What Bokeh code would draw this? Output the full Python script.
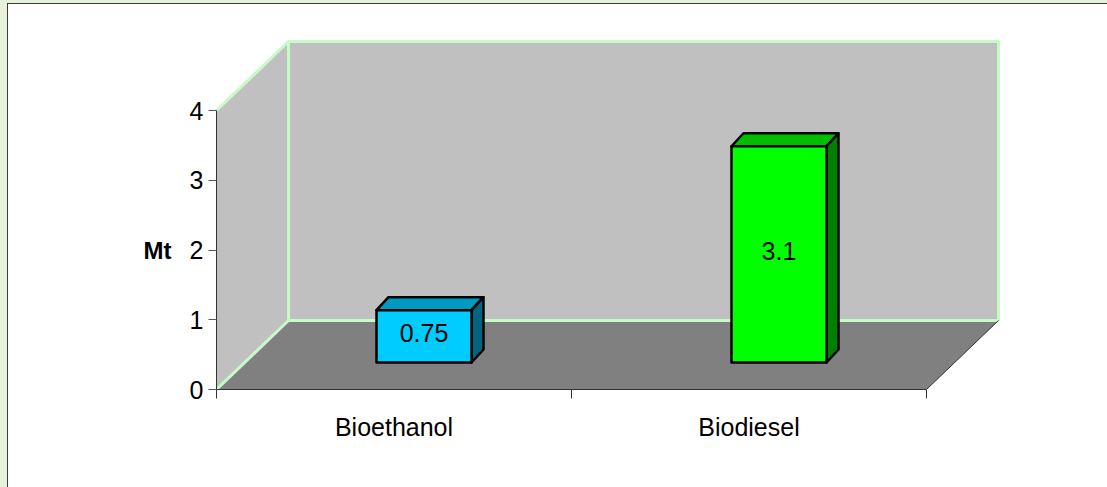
from bokeh.plotting import figure
from bokeh.models import Range1d, FixedTicker
from bokeh.core.properties import value
from bokeh.embed import file_html
from bokeh.resources import INLINE

categories = ["Bioethanol", "Biodiesel"]
values = [0.75, 3.1]
value_labels = ["0.75", "3.1"]
y_ticks = [0, 1, 2, 3, 4]
axis_label = "Mt"
axis_label_y = 2
face_colors = ["#00CCFF", "#00FF00"]
top_colors = ["#0099BF", "#00BF00"]
side_colors = ["#006680", "#008000"]

W, H = 1099, 483
LEFT, BOTTOM = 208, 98
XU, YU = 355.0, 69.75       # pixels per data unit
FONT = "Liberation Sans"
FS = "25px"

x_min = -LEFT / XU
x_max = (W - LEFT) / XU
y_min = -BOTTOM / YU
y_max = (H - BOTTOM) / YU
n = len(categories)
Y_TOP = max(y_ticks)

# depth of the pseudo 3D box, in data units
DX, DY = 72 / XU, 69 / YU
# depth of a bar and its position on the floor
BDX, BDY = 12 / XU, 13 / YU
SHIFT_X, SHIFT_Y = 30 / XU, 27 / YU
BAR_W = 95 / XU

p = figure(width=W, height=H, output_backend="svg", toolbar_location=None,
           x_range=Range1d(x_min, x_max), y_range=Range1d(y_min, y_max),
           min_border_left=0, min_border_bottom=0, min_border_top=0, min_border_right=0,
           outline_line_color=None, background_fill_color="white", border_fill_color="white")
p.grid.visible = False

WALL, FLOOR, EDGE = "#C0C0C0", "#808080", "#C8FAC8"
# back wall, left wall, floor
p.patch([DX, n + DX, n + DX, DX], [DY, DY, DY + Y_TOP, DY + Y_TOP], fill_color=WALL, line_color=None)
p.patch([0, DX, DX, 0], [0, DY, DY + Y_TOP, Y_TOP], fill_color=WALL, line_color=None)
p.patch([0, DX, n + DX, n], [0, DY, DY, 0], fill_color=FLOOR, line_color=None)
# light edges
p.multi_line([[DX, n + DX, n + DX, DX, DX], [0, DX], [0, DX]],
             [[DY, DY, DY + Y_TOP, DY + Y_TOP, DY], [Y_TOP, DY + Y_TOP], [0, DY]],
             line_color=EDGE, line_width=3)
p.line([n, n + DX], [0, DY], line_color="#333333", line_width=1)

# bars
for i, v in enumerate(values):
    x0 = i + 0.5 + SHIFT_X - BAR_W / 2
    x1 = x0 + BAR_W
    y0 = SHIFT_Y
    y1 = y0 + v
    p.patch([x0, x0 + BDX, x1 + BDX, x1], [y1, y1 + BDY, y1 + BDY, y1],
            fill_color=top_colors[i], line_color="black", line_width=2.5, line_join="round")
    p.patch([x1, x1 + BDX, x1 + BDX, x1], [y0, y0 + BDY, y1 + BDY, y1],
            fill_color=side_colors[i], line_color="black", line_width=2.5, line_join="round")
    p.patch([x0, x1, x1, x0], [y0, y0, y1, y1],
            fill_color=face_colors[i], line_color="black", line_width=2.5, line_join="round")
    p.text([(x0 + x1) / 2], [(y0 + y1) / 2], text=[value_labels[i]], text_align="center",
           text_baseline="middle", y_offset=-3, text_font=value(FONT), text_font_size=FS, text_color="black")

p.text([-59 / XU], [axis_label_y], text=[axis_label], text_align="center", text_baseline="middle",
       text_font=value(FONT), text_font_style="bold", text_font_size="24px", text_color="black")

# axes
ya = p.yaxis[0]
ya.fixed_location = 0
ya.ticker = FixedTicker(ticks=y_ticks)
ya.bounds = (0, Y_TOP)
ya.major_label_text_font = FONT
ya.major_label_text_font_size = FS
ya.major_label_text_color = "black"
ya.major_label_standoff = 5
ya.major_tick_in = 0
ya.major_tick_out = 8
ya.minor_tick_line_color = None
ya.major_tick_line_color = "#555555"
ya.axis_line_color = "#333333"

xa = p.xaxis[0]
xa.fixed_location = 0
xa.ticker = FixedTicker(ticks=[i + 0.5 for i in range(n)], minor_ticks=list(range(n + 1)))
xa.major_label_overrides = {i + 0.5: c for i, c in enumerate(categories)}
xa.bounds = (0, n)
xa.major_tick_line_color = None
xa.major_tick_in = 0
xa.major_tick_out = 0
xa.minor_tick_in = 0
xa.minor_tick_out = 9
xa.minor_tick_line_color = "#333333"
xa.major_label_standoff = 14
xa.major_label_text_font = FONT
xa.major_label_text_font_size = FS
xa.major_label_text_color = "black"
xa.axis_line_color = "#333333"

html = file_html(p, INLINE)
style = """<style>
html,body{height:100%;margin:0;overflow:hidden;}
body{padding:4px 0 0 8px;box-sizing:border-box;}
html{background:
 linear-gradient(#3a3a3a,#3a3a3a) 7px 3px/100% 1px no-repeat,
 linear-gradient(#3a3a3a,#3a3a3a) 7px 3px/1px 100% no-repeat,
 linear-gradient(#fff,#fff) 8px 4px/100% 100% no-repeat,
 #E6F3DA;}
</style>"""
html = html.replace("</head>", style + "</head>", 1)
open("out.html", "w").write(html)
